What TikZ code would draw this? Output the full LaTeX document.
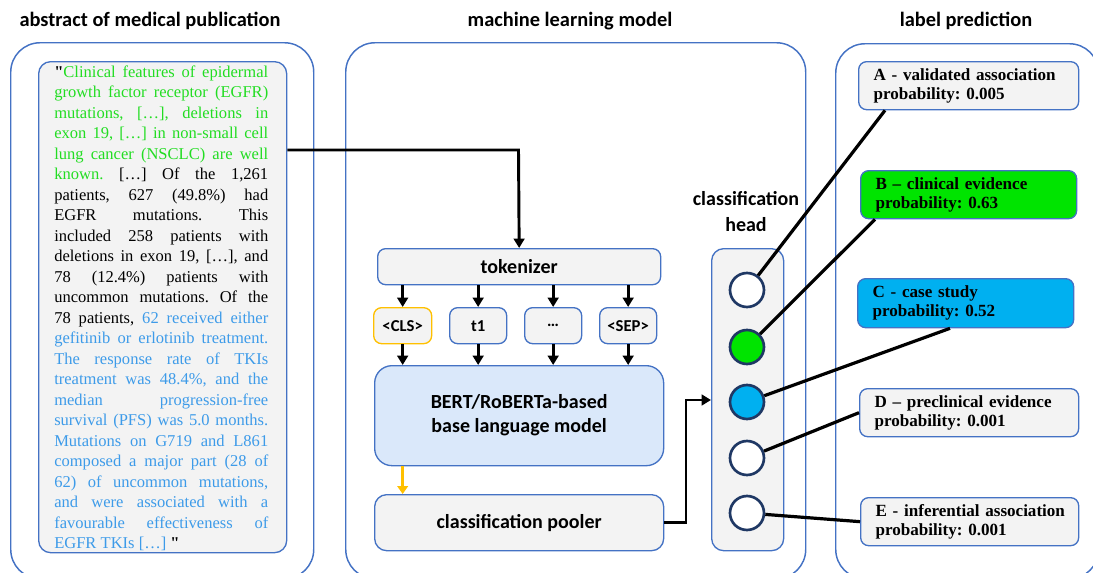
\documentclass[tikz,border=0pt]{standalone}
\usepackage{fontspec}
\setmainfont{Liberation Serif}
\newfontfamily\qf{Liberation Serif}[Ligatures=TeXOff]
\newfontfamily\cbf{Carlito}
\usetikzlibrary{arrows.meta,calc}
\definecolor{bblue}{HTML}{4472C4}
\definecolor{gfill}{HTML}{F3F3F3}
\definecolor{bertfill}{HTML}{DAE8FA}
\definecolor{orng}{HTML}{FFC000}
\definecolor{gbox}{HTML}{00E400}
\definecolor{cbox}{HTML}{00B0F0}
\definecolor{navy}{HTML}{1F3864}
\definecolor{gtext}{HTML}{22DD22}
\definecolor{btext}{HTML}{3D9BE9}
\newcommand{\G}[1]{\textcolor{gtext}{#1}}
\newcommand{\B}[1]{\textcolor{btext}{#1}}
\newcommand{\J}[1]{\makebox[160.5pt][s]{#1}}
\newcommand{\Q}{{\qf\bfseries "}}
\frenchspacing
\begin{document}
\begin{tikzpicture}[x=0.75pt,y=-0.75pt,
  panel/.style={draw=bblue, line width=1.1pt, rounded corners=22pt, anchor=north west, inner sep=0},
  box/.style={draw=bblue, fill=gfill, line width=1pt, rounded corners=6pt, anchor=north west, inner sep=0},
  title/.style={font=\cbf\bfseries\fontsize{15.3}{18}\selectfont, anchor=base, inner sep=0},
  sans/.style={font=\cbf\bfseries\fontsize{15}{18}\selectfont},
  tsans/.style={font=\cbf\bfseries\fontsize{12.5}{15}\selectfont},
  absline/.style={anchor=base west, inner sep=0, font=\frenchspacing\fontsize{12.4}{15.4}\selectfont},
  lab/.style={box, inner xsep=11.25pt, inner ysep=0pt, align=left, font=\frenchspacing\bfseries\fontsize{12.8}{14.3}\selectfont},
  neuron/.style={circle, draw=navy, line width=2pt, fill=white, minimum size=25.5pt, inner sep=0},
  arr/.style={line width=2.2pt, -{Triangle[length=7pt,width=8pt]}},
  conn/.style={line width=2.4pt}]
\useasboundingbox (0,0) rectangle (1093,572);
\begin{scope}
\clip (0,0) rectangle (1093,572);
\node[panel, minimum width=227.25pt, minimum height=402pt] (pl) at (10,42) {};
\node[panel, minimum width=345pt, minimum height=402pt] (pm) at (345,42) {};
\node[panel, minimum width=197.25pt, minimum height=401.25pt] (pr) at (835,43) {};
\end{scope}
% titles
\node[title] (t1title) at (150,26) {abstract of medical publication};
\node[title] (t2title) at (570,26) {machine learning model};
\node[title] (t3title) at (966,26) {label prediction};
% abstract
\node[box, rounded corners=9pt, minimum width=186pt, minimum height=368.25pt] (abs) at (38,61) {};
\node[absline] (l1) at (54,77) {\J{\Q\G{Clinical features of epidermal}}};
\node[absline] (l2) at (54,97.5) {\J{\G{growth factor receptor (EGFR)}}};
\node[absline] (l3) at (54,118) {\J{\G{mutations, […], deletions in}}};
\node[absline] (l4) at (54,138.5) {\J{\G{exon 19, […] in non-small cell}}};
\node[absline] (l5) at (54,159) {\J{\G{lung cancer (NSCLC) are well}}};
\node[absline] (l6) at (54,179.5) {\J{\G{known.} […] Of the 1,261}};
\node[absline] (l7) at (54,200) {\J{patients, 627 (49.8\%) had}};
\node[absline] (l8) at (54,220.5) {\J{EGFR mutations. This}};
\node[absline] (l9) at (54,241) {\J{included 258 patients with}};
\node[absline] (l10) at (54,261.5) {\J{deletions in exon 19, […], and}};
\node[absline] (l11) at (54,282) {\J{78 (12.4\%) patients with}};
\node[absline] (l12) at (54,302.5) {\J{uncommon mutations. Of the}};
\node[absline] (l13) at (54,323) {\J{78 patients, \B{62 received either}}};
\node[absline] (l14) at (54,343.5) {\J{\B{gefitinib or erlotinib treatment.}}};
\node[absline] (l15) at (54,364) {\J{\B{The response rate of TKIs}}};
\node[absline] (l16) at (54,384.5) {\J{\B{treatment was 48.4\%, and the}}};
\node[absline] (l17) at (54,405) {\J{\B{median progression-free}}};
\node[absline] (l18) at (54,425.5) {\J{\B{survival (PFS) was 5.0 months.}}};
\node[absline] (l19) at (54,446) {\J{\B{Mutations on G719 and L861}}};
\node[absline] (l20) at (54,466.5) {\J{\B{composed a major part (28 of}}};
\node[absline] (l21) at (54,487) {\J{\B{62) of uncommon mutations,}}};
\node[absline] (l22) at (54,507.5) {\J{\B{and were associated with a}}};
\node[absline] (l23) at (54,528) {\J{\B{favourable effectiveness of}}};
\node[absline] (l24) at (54,548.5) {\B{EGFR TKIs […]} \Q};
% model
\node[box, minimum width=212.25pt, minimum height=27pt, sans] (tok) at (377,248) {tokenizer};
\node[box, draw=orng, minimum width=43.5pt, minimum height=27pt, tsans] (cls) at (373,307) {<CLS>};
\node[box, minimum width=42.75pt, minimum height=27pt, tsans] (tt) at (449,307) {t1};
\node[box, minimum width=42.75pt, minimum height=27pt, tsans] (dots) at (524,307) {…};
\node[box, minimum width=42.75pt, minimum height=27pt, tsans] (sep) at (599,307) {<SEP>};
\node[box, fill=bertfill, rounded corners=13pt, minimum width=216.75pt, minimum height=75pt, sans, align=center] (bert) at (374,365) {BERT/RoBERTa-based\\[0pt]base language model};
\node[box, rounded corners=9pt, minimum width=216.75pt, minimum height=42pt, sans] (pool) at (374,494) {classification pooler};
% head
\node[sans, align=center, anchor=base] (headlab) at (746,231) {classification\\[1pt]head};
\node[box, rounded corners=9pt, minimum width=54pt, minimum height=226.5pt] (head) at (711,248) {};
\node[neuron] (c1) at (747,290) {};
\node[neuron, fill=gbox] (c2) at (747,347) {};
\node[neuron, fill=cbox] (c3) at (747,402) {};
\node[neuron] (c4) at (747,458) {};
\node[neuron] (c5) at (747,513) {};
% labels
\node[lab, minimum width=165pt, minimum height=36pt, text width=142.5pt] (lA) at (858,61) {\mbox{A - validated association}\\\mbox{probability: 0.005}};
\node[lab, fill=gbox, minimum width=162pt, minimum height=36pt, text width=139.5pt] (lB) at (860,170) {\mbox{B – clinical evidence}\\\mbox{probability: 0.63}};
\node[lab, fill=cbox, minimum width=162pt, minimum height=36.75pt, text width=139.5pt] (lC) at (857,278) {\mbox{C - case study}\\\mbox{probability: 0.52}};
\node[lab, minimum width=164.25pt, minimum height=36pt, text width=141.75pt] (lD) at (859,388) {\mbox{D – preclinical evidence}\\\mbox{probability: 0.001}};
\node[lab, minimum width=163.5pt, minimum height=36pt, text width=141pt] (lE) at (860,497) {\mbox{E - inferential association}\\\mbox{probability: 0.001}};
% connectors
\coordinate (q) at (518.5,150);
\draw[arr] (abs.east |- q) -- (q) -- (tok.north);
\foreach \n in {cls,tt,dots,sep}{
  \draw[arr] (tok.south -| \n.north) -- (\n.north);
  \draw[arr] (\n.south) -- (bert.north -| \n.south);
}
\draw[line width=1.8pt, orng, -{Triangle[length=6pt,width=8pt]}] (bert.south -| cls.south) -- (pool.north -| cls.south);
\coordinate (hv) at (686,400);
\draw[arr] (pool.east) -| (hv) -- (head.west |- hv);
\draw[conn] (c1) -- ($(lA.south west)+(27,0)$);
\draw[conn] (c2) -- ($(lB.south west)+(15,0)$);
\draw[conn] (c3) -- ($(lC.south west)+(93,0)$);
\draw[conn] (c4) -- (lD.west);
\draw[conn] (c5) -- (lE.west);
\end{tikzpicture}
\end{document}
